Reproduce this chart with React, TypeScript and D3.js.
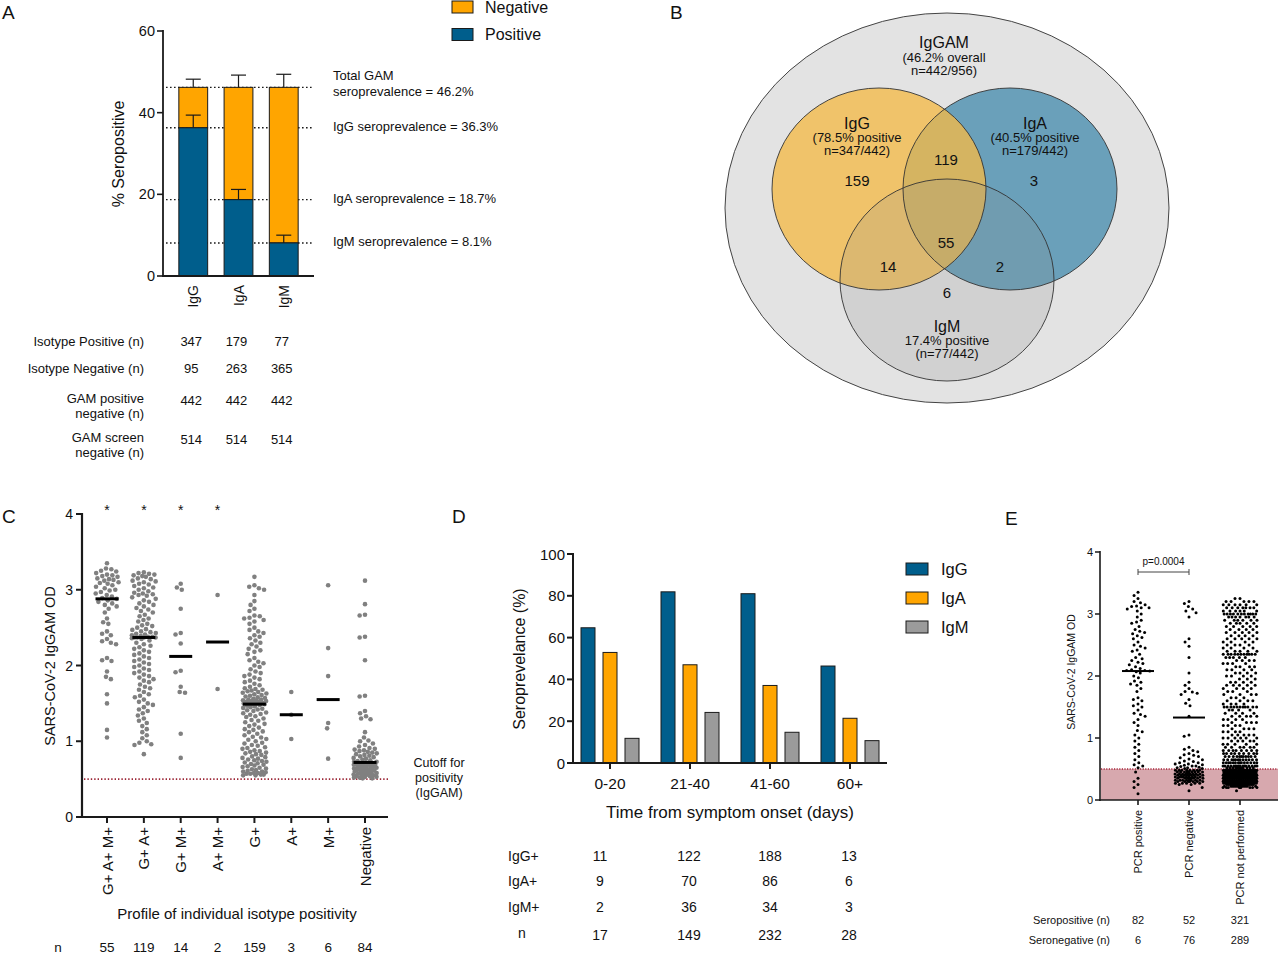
import * as d3 from 'd3';

const FONT = '"Liberation Sans", Arial, Helvetica, sans-serif';
const BLUE = '#005e8c';
const ORANGE = '#ffa500';
const GREY = '#9b9b9b';
const INK = '#1a1a1a';

// ---------- A: seroprevalence by isotype ----------
const isotypes = ['IgG', 'IgA', 'IgM'];
const isotypePositive = [36.3, 18.7, 8.1];
const gamTotal = [46.2, 46.2, 46.2];
const positiveUpper = [39.4, 21.2, 10.0];
const totalUpper = [48.2, 49.2, 49.4];
const seroLines = [46.2, 36.3, 18.7, 8.1];
const seroNotes = [
  ['Total GAM', 'seroprevalence = 46.2%'],
  ['IgG seroprevalence = 36.3%'],
  ['IgA seroprevalence = 18.7%'],
  ['IgM seroprevalence = 8.1%'],
];
const tableARows = [
  ['Isotype Positive (n)'],
  ['Isotype Negative (n)'],
  ['GAM positive', 'negative (n)'],
  ['GAM screen', 'negative (n)'],
];
const tableAValues = [
  [347, 179, 77],
  [95, 263, 365],
  [442, 442, 442],
  [514, 514, 514],
];

// ---------- B: venn ----------
const vennTitle = ['IgGAM', '(46.2% overall', 'n=442/956)'];
const vennSets = ['IgG', 'IgA', 'IgM'];
const vennSetNotes = [
  ['(78.5% positive', 'n=347/442)'],
  ['(40.5% positive', 'n=179/442)'],
  ['17.4% positive', '(n=77/442)'],
];
const vennRegions = ['G', 'A', 'GA', 'GM', 'AM', 'GAM', 'M'];
const vennCounts = [159, 3, 119, 14, 2, 55, 6];

// ---------- C: OD by isotype profile ----------
const profiles = ['G+ A+ M+', 'G+ A+', 'G+ M+', 'A+ M+', 'G+', 'A+', 'M+', 'Negative'];
const profileOD = [
  '3.35 3.28 3.27 3.25 3.24 3.22 3.2 3.19 3.18 3.17 3.15 3.14 3.13 3.12 3.1 3.09 3.08 3.06 3.04 3.02 3 2.99 2.97 2.95 2.93 2.91 2.89 2.88 2.86 2.84 2.82 2.8 2.78 2.75 2.7 2.62 2.57 2.55 2.45 2.42 2.4 2.35 2.32 2.3 2.28 2.1 2.07 2.06 1.92 1.85 1.82 1.62 1.5 1.15 1.05',
  '3.23 3.22 3.21 3.2 3.19 3.18 3.17 3.15 3.14 3.12 3.11 3.1 3.08 3.07 3.05 3.03 3.02 3 2.98 2.96 2.95 2.94 2.93 2.92 2.9 2.88 2.86 2.84 2.82 2.8 2.78 2.76 2.74 2.72 2.7 2.67 2.65 2.62 2.6 2.58 2.55 2.53 2.52 2.5 2.48 2.47 2.45 2.44 2.43 2.42 2.41 2.4 2.39 2.38 2.38 2.37 2.37 2.37 2.37 2.36 2.35 2.33 2.3 2.28 2.26 2.24 2.22 2.2 2.18 2.16 2.14 2.12 2.1 2.08 2.06 2.04 2.02 2 1.98 1.96 1.94 1.92 1.9 1.88 1.86 1.84 1.82 1.8 1.78 1.75 1.72 1.7 1.68 1.65 1.62 1.6 1.58 1.55 1.52 1.5 1.48 1.45 1.42 1.4 1.37 1.34 1.3 1.27 1.24 1.2 1.16 1.12 1.08 1.04 1 0.98 0.96 0.95 0.83',
  '3.08 3.03 3 2.75 2.43 2.41 2.29 1.93 1.91 1.72 1.65 1.64 1.1 0.78',
  '2.93 1.69',
  '3.17 3.06 3.04 3.02 3 2.93 2.85 2.8 2.75 2.72 2.66 2.65 2.63 2.62 2.6 2.58 2.55 2.5 2.47 2.45 2.43 2.4 2.38 2.36 2.33 2.3 2.28 2.25 2.22 2.2 2.18 2.15 2.1 2.07 2.05 2.03 2 1.98 1.95 1.92 1.9 1.88 1.86 1.84 1.82 1.8 1.78 1.76 1.74 1.72 1.7 1.69 1.68 1.67 1.66 1.65 1.64 1.63 1.62 1.61 1.6 1.59 1.58 1.57 1.56 1.55 1.55 1.54 1.54 1.53 1.53 1.52 1.52 1.51 1.51 1.5 1.5 1.5 1.49 1.49 1.48 1.47 1.46 1.45 1.44 1.43 1.42 1.41 1.4 1.38 1.37 1.36 1.35 1.33 1.32 1.3 1.28 1.27 1.25 1.23 1.22 1.2 1.18 1.16 1.15 1.13 1.12 1.1 1.08 1.06 1.05 1.03 1.02 1 0.98 0.97 0.95 0.94 0.92 0.91 0.9 0.88 0.87 0.86 0.85 0.84 0.83 0.82 0.8 0.79 0.78 0.77 0.76 0.75 0.74 0.73 0.72 0.71 0.7 0.69 0.68 0.67 0.66 0.65 0.64 0.63 0.62 0.61 0.6 0.6 0.59 0.58 0.58 0.57 0.57 0.56 0.56 0.55 0.55',
  '1.65 1.35 1.03',
  '3.06 2.23 1.86 1.24 1.17 0.77',
  '3.12 2.81 2.67 2.66 2.38 2.37 2.07 1.6 1.59 1.4 1.37 1.33 1.3 1.29 1.12 1.05 1.01 1 0.97 0.95 0.93 0.91 0.9 0.89 0.88 0.87 0.86 0.85 0.84 0.83 0.82 0.81 0.8 0.79 0.78 0.77 0.76 0.75 0.74 0.73 0.73 0.72 0.71 0.71 0.7 0.7 0.69 0.69 0.68 0.68 0.67 0.67 0.66 0.66 0.65 0.65 0.64 0.64 0.63 0.63 0.62 0.62 0.61 0.61 0.6 0.6 0.59 0.59 0.58 0.58 0.57 0.57 0.56 0.56 0.55 0.55 0.54 0.54 0.53 0.53 0.52 0.52 0.51 0.51',
];
const profileMedian = [2.88, 2.37, 2.12, 2.31, 1.49, 1.35, 1.55, 0.72];
const profileStar = ['*', '*', '*', '*', '', '', '', ''];
const profileN = [55, 119, 14, 2, 159, 3, 6, 84];
const odCutoff = 0.5;

// ---------- D: seroprevalence by time ----------
const timeGroups = ['0-20', '21-40', '41-60', '60+'];
const timeSeries = ['IgG', 'IgA', 'IgM'];
const timeIgG = [64.7, 81.9, 81.0, 46.4];
const timeIgA = [52.9, 47.0, 37.1, 21.4];
const timeIgM = [11.8, 24.2, 14.7, 10.7];
const timeRowLabels = ['IgG+', 'IgA+', 'IgM+', 'n'];
const timeTable = [
  [11, 122, 188, 13],
  [9, 70, 86, 6],
  [2, 36, 34, 3],
  [17, 149, 232, 28],
];

// ---------- E: OD by PCR status ----------
const pcrGroups = ['PCR positive', 'PCR negative', 'PCR not performed'];
const pcrOD = [
  '3.35 3.3 3.25 3.2 3.18 3.15 3.13 3.12 3.1 3.1 3.08 3.05 3 2.95 2.9 2.87 2.85 2.8 2.75 2.72 2.7 2.68 2.65 2.62 2.6 2.55 2.5 2.48 2.45 2.42 2.4 2.35 2.3 2.28 2.25 2.22 2.2 2.18 2.15 2.12 2.1 2.09 2.09 2.08 2.07 2.05 2 1.97 1.92 1.9 1.87 1.85 1.8 1.75 1.65 1.62 1.6 1.55 1.52 1.5 1.45 1.4 1.38 1.35 1.3 1.25 1.2 1.12 1.1 1.05 1 0.95 0.9 0.85 0.8 0.75 0.7 0.65 0.6 0.57 0.55 0.52 0.45 0.35 0.3 0.25 0.2 0.1',
  '3.2 3.17 3.12 3.08 3.05 3.02 2.95 2.6 2.55 2.48 2.3 2.05 1.9 1.85 1.8 1.75 1.74 1.72 1.7 1.62 1.56 1.52 1.35 1.05 1.03 0.85 0.82 0.8 0.78 0.75 0.73 0.72 0.7 0.68 0.66 0.65 0.63 0.62 0.6 0.6 0.58 0.58 0.57 0.56 0.55 0.55 0.54 0.53 0.52 0.52 0.51 0.51 0.48*8 0.45*9 0.42*9 0.4*9 0.37*9 0.35*8 0.32*8 0.3*7 0.27*5 0.25*2 0.2 0.15',
  '3.25*2 3.2*5 3.15*6 3.1*7 3.05*6 3*11 2.95*7 2.9*6 2.85*5 2.8*5 2.75*4 2.7*5 2.65*4 2.6*5 2.55*4 2.5*4 2.45*4 2.4*5 2.35*11 2.3*5 2.25*4 2.2*4 2.15*4 2.1*4 2.05*4 2*4 1.95*3 1.9*4 1.85*5 1.8*4 1.75*3 1.7*4 1.65*3 1.6*4 1.55*4 1.5*11 1.45*4 1.4*4 1.35*5 1.3*4 1.25*4 1.2*4 1.15*4 1.1*4 1.05*5 1*6 0.95*5 0.9*5 0.85*6 0.8*8 0.75*9 0.7*11 0.65*12 0.6*14 0.55*16 0.52*11 0.48*30 0.45*32 0.42*32 0.4*30 0.37*30 0.35*28 0.32*26 0.3*24 0.27*20 0.25*16 0.22*12 0.2*8 0.15',
];
const pcrMedian = [2.08, 1.33, null];
const pcrSeropositive = [82, 52, 321];
const pcrSeronegative = [6, 76, 289];

// "v" or "v*count"
function parseOD(s: string): number[] {
  return s.trim().split(/\s+/).flatMap((t) => {
    const [v, c] = t.split('*');
    return Array(c ? +c : 1).fill(+v);
  });
}

// beeswarm; squeezes the spacing where the column would get wider than maxHalf
function swarm(values: number[], y: (v: number) => number, cx: number, d: number, maxHalf: number) {
  const ys = values.map((v) => y(v)).sort((a, b) => a - b);
  const placed: { x: number; y: number }[] = [];
  for (const py of ys) {
    let chosen = 0;
    for (let f = 1; f >= 0.15; f -= 0.08) {
      const dd = d * f;
      const blocks: [number, number][] = [];
      for (let k = placed.length - 1; k >= 0; k--) {
        const dy = py - placed[k].y;
        if (dy >= d) break;
        if (dy < dd) {
          const w = Math.sqrt(dd * dd - dy * dy);
          blocks.push([placed[k].x - w, placed[k].x + w]);
        }
      }
      const cands = [0, ...blocks.flatMap(([a, b]) => [a, b])].sort((a, b) => Math.abs(a) - Math.abs(b));
      const ok = cands.find((c) => blocks.every(([a, b]) => c <= a + 1e-6 || c >= b - 1e-6));
      if (ok !== undefined && Math.abs(ok) <= maxHalf) {
        chosen = ok;
        break;
      }
    }
    placed.push({ x: chosen, y: py });
  }
  return placed.map((p) => ({ x: cx + p.x, y: p.y }));
}

function PanelA() {
  const y = d3.scaleLinear().domain([0, 60]).range([276, 31]);
  const x = d3.scaleBand().domain(isotypes).range([163, 314]).paddingInner(0.363).paddingOuter(0.35);
  const bw = x.bandwidth();
  const cap = 7.5;
  return (
    <g>
      <text x={2} y={19} fontSize={19}>A</text>
      {seroLines.map((v) => (
        <line key={v} x1={166} x2={314} y1={y(v)} y2={y(v)} stroke={INK} strokeWidth={1.4} strokeDasharray="1.6,2.4" />
      ))}
      {isotypes.map((iso, i) => {
        const x0 = x(iso)!;
        const cx = x0 + bw / 2;
        return (
          <g key={iso}>
            <rect x={x0} y={y(gamTotal[i])} width={bw} height={y(isotypePositive[i]) - y(gamTotal[i])} fill={ORANGE} stroke={INK} strokeWidth={1} />
            <rect x={x0} y={y(isotypePositive[i])} width={bw} height={y(0) - y(isotypePositive[i])} fill={BLUE} stroke={INK} strokeWidth={1} />
            <line x1={cx} x2={cx} y1={y(gamTotal[i])} y2={y(totalUpper[i])} stroke={INK} strokeWidth={1.2} />
            <line x1={cx - cap} x2={cx + cap} y1={y(totalUpper[i])} y2={y(totalUpper[i])} stroke={INK} strokeWidth={1.2} />
            <line x1={cx} x2={cx} y1={y(isotypePositive[i])} y2={y(positiveUpper[i])} stroke={INK} strokeWidth={1.2} />
            <line x1={cx - cap} x2={cx + cap} y1={y(positiveUpper[i])} y2={y(positiveUpper[i])} stroke={INK} strokeWidth={1.2} />
            <text transform={`translate(${cx},${285}) rotate(-90)`} textAnchor="end" dominantBaseline="central" fontSize={14}>{iso}</text>
          </g>
        );
      })}
      <line x1={163} x2={163} y1={30} y2={276} stroke={INK} strokeWidth={1.8} />
      <line x1={162} x2={314} y1={276} y2={276} stroke={INK} strokeWidth={1.8} />
      {y.ticks(3).map((t) => (
        <g key={t}>
          <line x1={157} x2={163} y1={y(t)} y2={y(t)} stroke={INK} strokeWidth={1.6} />
          <text x={155} y={y(t)} textAnchor="end" dominantBaseline="central" fontSize={14.5}>{t}</text>
        </g>
      ))}
      <text transform={`translate(118,154) rotate(-90)`} textAnchor="middle" dominantBaseline="central" fontSize={16}>% Seropositive</text>
      {seroNotes.map((lines, i) => (
        <text key={i} x={333} fontSize={13} dominantBaseline="central">
          {lines.map((l, j) => (
            <tspan key={j} x={333} y={y(seroLines[i]) + (lines.length > 1 ? -12 + j * 16 : -2)}>{l}</tspan>
          ))}
        </text>
      ))}
      {[
        ['Negative', ORANGE],
        ['Positive', BLUE],
      ].map(([label, color], i) => (
        <g key={label}>
          <rect x={452} y={1 + i * 27.5} width={21} height={12} fill={color} stroke={INK} strokeWidth={1} />
          <text x={485} y={7 + i * 27.5} dominantBaseline="central" fontSize={16}>{label}</text>
        </g>
      ))}
      {tableARows.map((lines, r) => {
        const ry = [341, 368, 400, 439][r];
        return (
          <g key={r} fontSize={13}>
            <text textAnchor="end" dominantBaseline="central">
              {lines.map((l, j) => (
                <tspan key={j} x={144} y={ry + (lines.length > 1 ? -2 + j * 15 : 0)}>{l}</tspan>
              ))}
            </text>
            {tableAValues[r].map((v, c) => (
              <text key={c} x={x(isotypes[c])! + bw / 2 - 2} y={ry} textAnchor="middle" dominantBaseline="central">{v}</text>
            ))}
          </g>
        );
      })}
    </g>
  );
}

function PanelB() {
  const outer = { cx: 947, cy: 208, rx: 222, ry: 195 };
  const sets = [
    { cx: 879, cy: 189, fill: '#f4ba48', opacity: 0.78 },
    { cx: 1010, cy: 189, fill: '#6aa0ba', opacity: 1 },
    { cx: 947, cy: 280, fill: '#8a8a8a', opacity: 0.2 },
  ];
  const rx = 107;
  const ry = 101;
  const regionPos: Record<string, [number, number]> = {
    G: [857, 180], A: [1034, 180], GA: [946, 159], GM: [888, 266], AM: [1000, 266], GAM: [946, 242], M: [947, 292],
  };
  const setLabelPos: [number, number][] = [[857, 123], [1035, 123], [947, 326]];
  const drawOrder = [1, 0, 2];
  return (
    <g>
      <text x={670} y={19} fontSize={19}>B</text>
      <ellipse {...outer} fill="#e3e3e3" stroke="#444" strokeWidth={1} />
      {drawOrder.map((i) => (
        <ellipse key={i} cx={sets[i].cx} cy={sets[i].cy} rx={rx} ry={ry} fill={sets[i].fill} opacity={sets[i].opacity} />
      ))}
      {sets.map((s, i) => (
        <ellipse key={i} cx={s.cx} cy={s.cy} rx={rx} ry={ry} fill="none" stroke="#333" strokeWidth={0.9} />
      ))}
      <text textAnchor="middle" dominantBaseline="central">
        <tspan x={944} y={42} fontSize={16}>{vennTitle[0]}</tspan>
        <tspan x={944} y={57} fontSize={13}>{vennTitle[1]}</tspan>
        <tspan x={944} y={70} fontSize={13}>{vennTitle[2]}</tspan>
      </text>
      {vennSets.map((name, i) => (
        <text key={name} textAnchor="middle" dominantBaseline="central">
          <tspan x={setLabelPos[i][0]} y={setLabelPos[i][1]} fontSize={16}>{name}</tspan>
          <tspan x={setLabelPos[i][0]} y={setLabelPos[i][1] + 14} fontSize={13}>{vennSetNotes[i][0]}</tspan>
          <tspan x={setLabelPos[i][0]} y={setLabelPos[i][1] + 27} fontSize={13}>{vennSetNotes[i][1]}</tspan>
        </text>
      ))}
      {vennRegions.map((r, i) => (
        <text key={r} x={regionPos[r][0]} y={regionPos[r][1]} textAnchor="middle" dominantBaseline="central" fontSize={15}>{vennCounts[i]}</text>
      ))}
    </g>
  );
}

function PanelC() {
  const y = d3.scaleLinear().domain([0, 4]).range([817, 514]);
  const x = d3.scalePoint().domain(profiles).range([107, 365]);
  return (
    <g>
      <text x={2} y={523} fontSize={19}>C</text>
      <line x1={84} x2={388} y1={y(odCutoff)} y2={y(odCutoff)} stroke="#9c2636" strokeWidth={1.6} strokeDasharray="1.4,2" />
      {profiles.map((p, i) => {
        const cx = x(p)!;
        const pts = swarm(parseOD(profileOD[i]), y, cx, 5.4, 12);
        return (
          <g key={p}>
            {pts.map((d, j) => (
              <circle key={j} cx={d.x} cy={d.y} r={2.3} fill="#808080" />
            ))}
            <line x1={cx - 11.5} x2={cx + 11.5} y1={y(profileMedian[i])} y2={y(profileMedian[i])} stroke="#000" strokeWidth={3} />
            <text x={cx} y={510} textAnchor="middle" dominantBaseline="central" fontSize={14}>{profileStar[i]}</text>
            <line x1={cx} x2={cx} y1={817} y2={823} stroke={INK} strokeWidth={2} />
            <text transform={`translate(${cx},${827}) rotate(-90)`} textAnchor="end" dominantBaseline="central" fontSize={15}>{p}</text>
            <text x={cx} y={947} textAnchor="middle" dominantBaseline="central" fontSize={13.5}>{profileN[i]}</text>
          </g>
        );
      })}
      <line x1={82} x2={82} y1={513} y2={818} stroke={INK} strokeWidth={2.2} />
      <line x1={81} x2={388} y1={817} y2={817} stroke={INK} strokeWidth={2.2} />
      {y.ticks(4).map((t) => (
        <g key={t}>
          <line x1={76} x2={82} y1={y(t)} y2={y(t)} stroke={INK} strokeWidth={2} />
          <text x={73} y={y(t)} textAnchor="end" dominantBaseline="central" fontSize={14}>{t}</text>
        </g>
      ))}
      <text transform="translate(50,666) rotate(-90)" textAnchor="middle" dominantBaseline="central" fontSize={14.5}>SARS-CoV-2 IgGAM OD</text>
      <text x={237} y={913} textAnchor="middle" dominantBaseline="central" fontSize={15}>Profile of individual isotype positivity</text>
      <text x={58} y={947} textAnchor="middle" dominantBaseline="central" fontSize={13.5}>n</text>
      <text textAnchor="middle" dominantBaseline="central" fontSize={12.5}>
        <tspan x={439} y={763}>Cutoff for</tspan>
        <tspan x={439} y={778}>positivity</tspan>
        <tspan x={439} y={793}>(IgGAM)</tspan>
      </text>
    </g>
  );
}

function PanelD() {
  const x = d3.scaleBand().domain(timeGroups).range([570, 890]);
  const s = d3.scaleBand().domain(timeSeries).range([-29, 29]).paddingInner(0.3636);
  const y = d3.scaleLinear().domain([0, 100]).range([763, 554]);
  const colors = [BLUE, ORANGE, GREY];
  const values = [timeIgG, timeIgA, timeIgM];
  const tableShift = [-10, -1, 0, -1];
  return (
    <g>
      <text x={452} y={523} fontSize={19}>D</text>
      {timeGroups.map((g, gi) => {
        const cx = x(g)! + x.bandwidth() / 2;
        return (
          <g key={g}>
            {timeSeries.map((ser, si) => (
              <rect key={ser} x={cx + s(ser)!} y={y(values[si][gi])} width={s.bandwidth()} height={y(0) - y(values[si][gi])} fill={colors[si]} stroke={INK} strokeWidth={1} />
            ))}
            <line x1={cx} x2={cx} y1={763} y2={769} stroke={INK} strokeWidth={2} />
            <text x={cx} y={783} textAnchor="middle" dominantBaseline="central" fontSize={15.5}>{g}</text>
            {timeTable.map((row, r) => (
              <text key={r} x={cx + tableShift[gi]} y={[856, 881, 907, 935][r]} textAnchor="middle" dominantBaseline="central" fontSize={14}>{row[gi]}</text>
            ))}
          </g>
        );
      })}
      <line x1={573} x2={573} y1={553} y2={764} stroke={INK} strokeWidth={2} />
      <line x1={572} x2={887} y1={763} y2={763} stroke={INK} strokeWidth={2} />
      {y.ticks(5).map((t) => (
        <g key={t}>
          <line x1={567} x2={573} y1={y(t)} y2={y(t)} stroke={INK} strokeWidth={2} />
          <text x={565} y={y(t)} textAnchor="end" dominantBaseline="central" fontSize={15}>{t}</text>
        </g>
      ))}
      <text transform="translate(519,659) rotate(-90)" textAnchor="middle" dominantBaseline="central" fontSize={16}>Seroprevelance (%)</text>
      <text x={730} y={812} textAnchor="middle" dominantBaseline="central" fontSize={17}>Time from symptom onset (days)</text>
      {timeSeries.map((ser, si) => (
        <g key={ser}>
          <rect x={906} y={563 + si * 29} width={22} height={12} fill={colors[si]} stroke={INK} strokeWidth={1} />
          <text x={941} y={569 + si * 29} dominantBaseline="central" fontSize={16.5}>{ser}</text>
        </g>
      ))}
      {timeRowLabels.map((l, r) => (
        <text key={l} x={r === 3 ? 522 : 508} y={[856, 881, 907, 933][r]} textAnchor={r === 3 ? 'middle' : 'start'} dominantBaseline="central" fontSize={14}>{l}</text>
      ))}
    </g>
  );
}

function PanelE() {
  const y = d3.scaleLinear().domain([0, 4]).range([800, 552]);
  const x = d3.scalePoint().domain(pcrGroups).range([1138, 1240]);
  const halfWidths = [14, 14, 17];
  const x0 = x(pcrGroups[0])!;
  const x1 = x(pcrGroups[1])!;
  return (
    <g>
      <text x={1005} y={525} fontSize={19}>E</text>
      <rect x={1101} y={y(odCutoff)} width={177} height={y(0) - y(odCutoff)} fill="#d7a8ae" />
      <line x1={1101} x2={1278} y1={y(odCutoff)} y2={y(odCutoff)} stroke="#a8243a" strokeWidth={1.3} strokeDasharray="1.2,1.4" />
      {pcrGroups.map((g, i) => {
        const cx = x(g)!;
        const pts = swarm(parseOD(pcrOD[i]), y, cx, 5, halfWidths[i]);
        const med = pcrMedian[i];
        return (
          <g key={g}>
            {pts.map((d, j) => (
              <circle key={j} cx={d.x} cy={d.y} r={1.5} fill="#000" />
            ))}
            {med !== null && (
              <line x1={cx - 16} x2={cx + 16} y1={y(med)} y2={y(med)} stroke="#000" strokeWidth={2} />
            )}
            <line x1={cx} x2={cx} y1={800} y2={805} stroke={INK} strokeWidth={1.6} />
            <text transform={`translate(${cx},${810}) rotate(-90)`} textAnchor="end" dominantBaseline="central" fontSize={11}>{g}</text>
            <text x={cx} y={920} textAnchor="middle" dominantBaseline="central" fontSize={11}>{pcrSeropositive[i]}</text>
            <text x={cx} y={940} textAnchor="middle" dominantBaseline="central" fontSize={11}>{pcrSeronegative[i]}</text>
          </g>
        );
      })}
      <line x1={1100} x2={1100} y1={551} y2={801} stroke={INK} strokeWidth={1.6} />
      <line x1={1099} x2={1278} y1={800} y2={800} stroke={INK} strokeWidth={1.6} />
      {y.ticks(4).map((t) => (
        <g key={t}>
          <line x1={1095} x2={1100} y1={y(t)} y2={y(t)} stroke={INK} strokeWidth={1.5} />
          <text x={1093} y={y(t)} textAnchor="end" dominantBaseline="central" fontSize={11}>{t}</text>
        </g>
      ))}
      <text transform="translate(1071,672) rotate(-90)" textAnchor="middle" dominantBaseline="central" fontSize={10.5}>SARS-CoV-2 IgGAM OD</text>
      <g stroke="#444" strokeWidth={1}>
        <line x1={x0} x2={x1} y1={572} y2={572} />
        <line x1={x0} x2={x0} y1={569} y2={575} />
        <line x1={x1} x2={x1} y1={569} y2={575} />
      </g>
      <text x={(x0 + x1) / 2} y={561} textAnchor="middle" dominantBaseline="central" fontSize={10}>p=0.0004</text>
      <text x={1110} y={920} textAnchor="end" dominantBaseline="central" fontSize={11}>Seropositive (n)</text>
      <text x={1110} y={940} textAnchor="end" dominantBaseline="central" fontSize={11}>Seronegative (n)</text>
    </g>
  );
}

export default function App() {
  return (
    <div style={{ position: 'absolute', left: 0, top: 0 }}>
      <svg width={1280} height={954} style={{ display: 'block', background: '#fff' }} fontFamily={FONT} fill="#111">
        <PanelA />
        <PanelB />
        <PanelC />
        <PanelD />
        <PanelE />
      </svg>
    </div>
  );
}
